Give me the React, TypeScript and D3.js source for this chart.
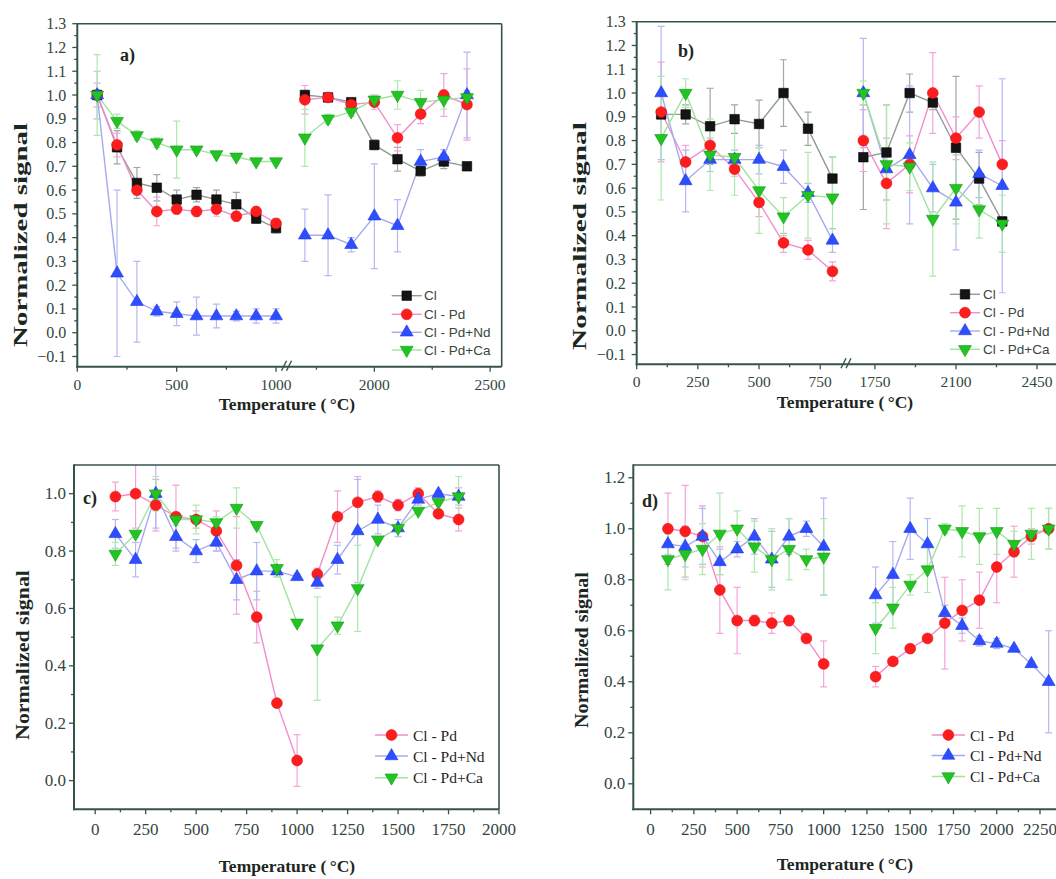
import React from 'react';
import * as d3 from 'd3';

const W = 1056;
const H = 879;

// ---------- temperatures (°C) ----------
const tempsA = [100, 200, 300, 400, 500, 600, 700, 800, 900, 1000, 1700, 1800, 1900, 2000, 2100, 2200, 2300, 2400];
const tempsB = [100, 200, 300, 400, 500, 600, 700, 800, 1700, 1800, 1900, 2000, 2100, 2200, 2300];
const tempsC = [100, 200, 300, 400, 500, 600, 700, 800, 900, 1000, 1100, 1200, 1300, 1400, 1500, 1600, 1700, 1800];
const tempsD = [100, 200, 300, 400, 500, 600, 700, 800, 900, 1000, 1300, 1400, 1500, 1600, 1700, 1800, 1900, 2000, 2100, 2200, 2300];

// ---------- panel a ----------
const aCl = [1.0, 0.78, 0.63, 0.61, 0.56, 0.58, 0.56, 0.54, 0.48, 0.44, 1.0, 0.99, 0.97, 0.79, 0.73, 0.68, 0.72, 0.7];
const aClErr = [0.02, 0.07, 0.065, 0.055, 0.04, 0.03, 0.04, 0.05, 0.02, 0.02, 0.02, 0.01, 0.01, 0.02, 0.05, 0.02, 0.03, 0.01];
const aPd = [1.0, 0.79, 0.6, 0.51, 0.52, 0.51, 0.52, 0.49, 0.51, 0.46, 0.98, 0.99, 0.96, 0.97, 0.82, 0.92, 1.0, 0.96];
const aPdErr = [0.05, 0.05, 0.02, 0.06, 0.02, 0.02, 0.03, 0.02, 0.02, 0.02, 0.06, 0.01, 0.02, 0.03, 0.055, 0.04, 0.09, 0.15];
const aNd = [1.0, 0.25, 0.13, 0.09, 0.08, 0.07, 0.07, 0.07, 0.07, 0.07, 0.41, 0.41, 0.37, 0.49, 0.45, 0.72, 0.74, 1.0];
const aNdErr = [0.1, 0.35, 0.17, 0.02, 0.05, 0.08, 0.05, 0.02, 0.03, 0.03, 0.11, 0.17, 0.03, 0.22, 0.11, 0.05, 0.03, 0.18];
const aCa = [1.0, 0.89, 0.83, 0.8, 0.77, 0.77, 0.75, 0.74, 0.72, 0.72, 0.82, 0.9, 0.93, 0.98, 1.0, 0.97, 0.98, 0.99];
const aCaErr = [0.17, 0.03, 0.02, 0.02, 0.12, 0.01, 0.01, 0.01, 0.01, 0.01, 0.12, 0.02, 0.02, 0.02, 0.06, 0.05, 0.04, 0.03];

// ---------- panel b ----------
const bCl = [0.91, 0.91, 0.86, 0.89, 0.87, 1.0, 0.85, 0.64, 0.73, 0.75, 1.0, 0.96, 0.77, 0.64, 0.46];
const bClErr = [0.01, 0.04, 0.16, 0.06, 0.1, 0.14, 0.07, 0.09, 0.22, 0.2, 0.08, 0.03, 0.3, 0.11, 0.02];
const bPd = [0.92, 0.71, 0.78, 0.68, 0.54, 0.37, 0.34, 0.25, 0.8, 0.62, 0.7, 1.0, 0.81, 0.92, 0.7];
const bPdErr = [0.21, 0.07, 0.03, 0.03, 0.06, 0.04, 0.04, 0.04, 0.13, 0.19, 0.12, 0.17, 0.09, 0.11, 0.1];
const bNd = [1.0, 0.63, 0.72, 0.72, 0.72, 0.69, 0.58, 0.38, 1.0, 0.68, 0.74, 0.6, 0.54, 0.66, 0.61];
const bNdErr = [0.28, 0.13, 0.05, 0.04, 0.06, 0.07, 0.04, 0.05, 0.23, 0.06, 0.29, 0.1, 0.2, 0.1, 0.45];
const bCa = [0.81, 1.0, 0.74, 0.73, 0.59, 0.48, 0.57, 0.56, 1.0, 0.7, 0.69, 0.47, 0.6, 0.51, 0.45];
const bCaErr = [0.26, 0.06, 0.15, 0.16, 0.18, 0.08, 0.18, 0.17, 0.05, 0.25, 0.1, 0.24, 0.15, 0.12, 0.12];

// ---------- panel c ----------
const cPd = [0.99, 1.0, 0.96, 0.92, 0.91, 0.87, 0.75, 0.57, 0.27, 0.07, 0.72, 0.92, 0.97, 0.99, 0.96, 1.0, 0.93, 0.91];
const cPdErr = [0.05, 0.12, 0.09, 0.11, 0.03, 0.07, 0.17, 0.09, 0.01, 0.09, 0.02, 0.09, 0.09, 0.02, 0.02, 0.02, 0.01, 0.04];
const cNd = [0.86, 0.77, 1.0, 0.85, 0.8, 0.83, 0.7, 0.73, 0.73, 0.71, 0.69, 0.77, 0.87, 0.91, 0.88, 0.98, 1.0, 0.99];
const cNdErr = [0.05, 0.06, 0.12, 0.05, 0.04, 0.03, 0.07, 0.1, 0.02, 0.01, 0.02, 0.05, 0.18, 0.05, 0.03, 0.02, 0.01, 0.03];
const cCa = [0.79, 0.86, 1.0, 0.91, 0.91, 0.9, 0.95, 0.89, 0.74, 0.55, 0.46, 0.54, 0.67, 0.84, 0.88, 0.94, 0.97, 0.99];
const cCaErr = [0.04, 0.01, 0.06, 0.02, 0.05, 0.02, 0.07, 0.01, 0.03, 0.01, 0.18, 0.03, 0.15, 0.01, 0.01, 0.01, 0.03, 0.07];

// ---------- panel d ----------
const dPd = [1.0, 0.99, 0.97, 0.76, 0.64, 0.64, 0.63, 0.64, 0.57, 0.47, 0.42, 0.48, 0.53, 0.57, 0.63, 0.68, 0.72, 0.85, 0.91, 0.97, 1.0];
const dPdErr = [0.14, 0.18, 0.12, 0.17, 0.13, 0.02, 0.04, 0.02, 0.01, 0.09, 0.04, 0.01, 0.01, 0.01, 0.18, 0.12, 0.11, 0.14, 0.1, 0.03, 0.08];
const dNd = [0.94, 0.93, 0.97, 0.87, 0.92, 0.97, 0.88, 0.97, 1.0, 0.93, 0.74, 0.82, 1.0, 0.94, 0.67, 0.62, 0.56, 0.55, 0.53, 0.47, 0.4];
const dNdErr = [0.04, 0.08, 0.11, 0.05, 0.03, 0.07, 0.11, 0.07, 0.03, 0.19, 0.11, 0.13, 0.12, 0.1, 0.03, 0.03, 0.02, 0.02, 0.01, 0.01, 0.2];
const dCa = [0.88, 0.9, 0.92, 0.98, 1.0, 0.93, 0.88, 0.92, 0.88, 0.89, 0.61, 0.69, 0.78, 0.84, 1.0, 0.99, 0.97, 0.99, 0.94, 0.98, 1.0];
const dCaErr = [0.12, 0.1, 0.1, 0.16, 0.07, 0.1, 0.12, 0.12, 0.04, 0.15, 0.1, 0.08, 0.04, 0.09, 0.02, 0.1, 0.11, 0.09, 0.05, 0.1, 0.08];

// ---------- axis ticks ----------
const ticksYab = [-0.1, 0.0, 0.1, 0.2, 0.3, 0.4, 0.5, 0.6, 0.7, 0.8, 0.9, 1.0, 1.1, 1.2, 1.3];
const minorYab = [-0.05, 0.05, 0.15, 0.25, 0.35, 0.45, 0.55, 0.65, 0.75, 0.85, 0.95, 1.05, 1.15, 1.25];
const ticksYc = [0.0, 0.2, 0.4, 0.6, 0.8, 1.0];
const minorYc = [0.1, 0.3, 0.5, 0.7, 0.9];
const ticksYd = [0.0, 0.2, 0.4, 0.6, 0.8, 1.0, 1.2];
const minorYd = [0.1, 0.3, 0.5, 0.7, 0.9, 1.1];
const ticksXa = [0, 500, 1000, 2000, 2500];
const minorXa = [250, 750, 1750, 2250];
const ticksXb = [0, 250, 500, 750, 1750, 2100, 2450];
const minorXb = [125, 375, 625, 1925, 2275];
const ticksXc = [0, 250, 500, 750, 1000, 1250, 1500, 1750, 2000];
const minorXc = [125, 375, 625, 875, 1125, 1375, 1625, 1875];
const ticksXd = [0, 250, 500, 750, 1000, 1250, 1500, 1750, 2000, 2250];
const minorXd = [125, 375, 625, 875, 1125, 1375, 1625, 1875, 2125];

type Key = 'Cl' | 'Pd' | 'Nd' | 'Ca';

const seriesNames: Record<Key, string> = {
  Cl: 'Cl',
  Pd: 'Cl - Pd',
  Nd: 'Cl - Pd+Nd',
  Ca: 'Cl - Pd+Ca',
};

const seriesStyle: Record<Key, { marker: string; edge: string; line: string; err: string }> = {
  Cl: { marker: '#141414', edge: '#000000', line: '#8e9c94', err: '#9daaa3' },
  Pd: { marker: '#ff1c1c', edge: '#e01010', line: '#f28ccf', err: '#f3a4da' },
  Nd: { marker: '#2d4dff', edge: '#1c3ae0', line: '#a7a9ef', err: '#b6b8f3' },
  Ca: { marker: '#22c422', edge: '#159815', line: '#9fe49f', err: '#ace9ac' },
};

const AXIS = '#34544b';
const TICKTEXT = '#32463f';
const TITLE = '#1c2622';

type Series = { key: Key; values: number[]; errors: number[] };

type PanelCfg = {
  id: string;
  label: string;
  labelPos: [number, number];
  xDomain: number[];
  xRange: number[];
  hasBreak: boolean;
  yDomain: [number, number];
  yRange: [number, number];
  xMajor: number[];
  xMinor: number[];
  yMajor: number[];
  yMinor: number[];
  tickFont: number;
  xTickFont: number;
  xLabelGap: number;
  yLabelGap: number;
  temps: number[];
  gapAfter: number;
  series: Series[];
  legend: { x0: number; x1: number; tx: number; rows: number[]; sans: boolean; font: number };
  yTitle: { cx: number; cy: number; len: number };
  xTitle: { cx: number; y: number };
};

const panels: PanelCfg[] = [
  {
    id: 'a',
    label: 'a)',
    labelPos: [120, 61],
    xDomain: [0, 1040, 1640, 2550],
    xRange: [77.3, 284, 291, 501.7],
    hasBreak: true,
    yDomain: [-0.143, 1.3],
    yRange: [366.7, 23.7],
    xMajor: ticksXa,
    xMinor: minorXa,
    yMajor: ticksYab,
    yMinor: minorYab,
    tickFont: 16,
    xTickFont: 15.5,
    xLabelGap: 23,
    yLabelGap: 11,
    temps: tempsA,
    gapAfter: 1000,
    series: [
      { key: 'Cl', values: aCl, errors: aClErr },
      { key: 'Pd', values: aPd, errors: aPdErr },
      { key: 'Nd', values: aNd, errors: aNdErr },
      { key: 'Ca', values: aCa, errors: aCaErr },
    ],
    legend: { x0: 391.7, x1: 421.7, tx: 424, rows: [295.7, 314.3, 332.3, 350], sans: true, font: 13.5 },
    yTitle: { cx: 21, cy: 235, len: 224 },
    xTitle: { cx: 287, y: 410 },
  },
  {
    id: 'b',
    label: 'b)',
    labelPos: [678, 57],
    xDomain: [0, 839, 1651, 2545],
    xRange: [636.7, 842, 852, 1059],
    hasBreak: true,
    yDomain: [-0.141, 1.3],
    yRange: [364.3, 21.7],
    xMajor: ticksXb,
    xMinor: minorXb,
    yMajor: ticksYab,
    yMinor: minorYab,
    tickFont: 16,
    xTickFont: 15.5,
    xLabelGap: 23,
    yLabelGap: 11,
    temps: tempsB,
    gapAfter: 800,
    series: [
      { key: 'Cl', values: bCl, errors: bClErr },
      { key: 'Pd', values: bPd, errors: bPdErr },
      { key: 'Nd', values: bNd, errors: bNdErr },
      { key: 'Ca', values: bCa, errors: bCaErr },
    ],
    legend: { x0: 950, x1: 980, tx: 983, rows: [294.3, 312.7, 331, 349.3], sans: true, font: 13.5 },
    yTitle: { cx: 580, cy: 236, len: 228 },
    xTitle: { cx: 845, y: 408 },
  },
  {
    id: 'c',
    label: 'c)',
    labelPos: [83, 504],
    xDomain: [-105, 2000],
    xRange: [74, 499],
    hasBreak: false,
    yDomain: [-0.1, 1.1],
    yRange: [809.3, 465],
    xMajor: ticksXc,
    xMinor: minorXc,
    yMajor: ticksYc,
    yMinor: minorYc,
    tickFont: 17,
    xTickFont: 17,
    xLabelGap: 26,
    yLabelGap: 8,
    temps: tempsC,
    gapAfter: 1000,
    series: [
      { key: 'Pd', values: cPd, errors: cPdErr },
      { key: 'Nd', values: cNd, errors: cNdErr },
      { key: 'Ca', values: cCa, errors: cCaErr },
    ],
    legend: { x0: 375, x1: 408, tx: 413, rows: [735, 756, 777.7], sans: false, font: 15.5 },
    yTitle: { cx: 23, cy: 655, len: 170 },
    xTitle: { cx: 287, y: 872 },
  },
  {
    id: 'd',
    label: 'd)',
    labelPos: [642, 507],
    xDomain: [-100, 2350],
    xRange: [633.3, 1057.3],
    hasBreak: false,
    yDomain: [-0.1, 1.25],
    yRange: [809.3, 465],
    xMajor: ticksXd,
    xMinor: minorXd,
    yMajor: ticksYd,
    yMinor: minorYd,
    tickFont: 17,
    xTickFont: 17,
    xLabelGap: 26,
    yLabelGap: 8,
    temps: tempsD,
    gapAfter: 1000,
    series: [
      { key: 'Pd', values: dPd, errors: dPdErr },
      { key: 'Nd', values: dNd, errors: dNdErr },
      { key: 'Ca', values: dCa, errors: dCaErr },
    ],
    legend: { x0: 931.7, x1: 965, tx: 970, rows: [735, 755.5, 776.5], sans: false, font: 15.5 },
    yTitle: { cx: 582, cy: 650, len: 156 },
    xTitle: { cx: 845, y: 870 },
  },
];

const SERIF = '"Liberation Serif", "Times New Roman", serif';
const SANS = '"Liberation Sans", Arial, sans-serif';

// Approximate advance of "Normalized signal" in bold Times-like serif, in em.
const Y_TITLE_EM = 7.75;
const Y_TITLE_FONT = 18;

function Marker({ k, cx, cy }: { k: Key; cx: number; cy: number }) {
  const st = seriesStyle[k];
  let path: string;
  let rot = 0;
  if (k === 'Cl') path = d3.symbol().type(d3.symbolSquare).size(90)() as string;
  else if (k === 'Pd') path = d3.symbol().type(d3.symbolCircle).size(92)() as string;
  else {
    path = d3.symbol().type(d3.symbolTriangle).size(72)() as string;
    if (k === 'Ca') rot = 180;
  }
  return (
    <path
      d={path}
      transform={`translate(${cx},${cy}) rotate(${rot})`}
      fill={st.marker}
      stroke={st.edge}
      strokeWidth={0.6}
    />
  );
}

function Panel({ cfg }: { cfg: PanelCfg }) {
  const x = d3.scaleLinear().domain(cfg.xDomain).range(cfg.xRange);
  const y = d3.scaleLinear().domain(cfg.yDomain).range(cfg.yRange);
  const left = cfg.xRange[0];
  const right = cfg.xRange[cfg.xRange.length - 1];
  const bottom = cfg.yRange[0];
  const top = cfg.yRange[1];
  const clipId = `clip-${cfg.id}`;

  const line = d3
    .line<[number, number]>()
    .x((d) => x(d[0]))
    .y((d) => y(d[1]));

  const segments = (vals: number[]) => {
    const pts: [number, number][] = cfg.temps.map((t, i) => [t, vals[i]]);
    return [pts.filter((p) => p[0] <= cfg.gapAfter), pts.filter((p) => p[0] > cfg.gapAfter)];
  };

  const fmtY = d3.format('.1f');
  const breakX = cfg.hasBreak ? (cfg.xRange[1] + cfg.xRange[2]) / 2 : 0;
  const yTitleStretch = cfg.yTitle.len / (Y_TITLE_EM * Y_TITLE_FONT);

  return (
    <g>
      <defs>
        <clipPath id={clipId}>
          <rect x={left} y={top} width={right - left} height={bottom - top} />
        </clipPath>
      </defs>

      {/* data */}
      <g clipPath={`url(#${clipId})`}>
        {cfg.series.map((s) =>
          cfg.temps.map((t, i) => {
            const cx = x(t);
            const y0 = y(s.values[i] - s.errors[i]);
            const y1 = y(s.values[i] + s.errors[i]);
            const c = seriesStyle[s.key].err;
            return (
              <g key={`e-${s.key}-${t}`} stroke={c} strokeWidth={1.2}>
                <line x1={cx} x2={cx} y1={y0} y2={y1} />
                <line x1={cx - 3.5} x2={cx + 3.5} y1={y0} y2={y0} />
                <line x1={cx - 3.5} x2={cx + 3.5} y1={y1} y2={y1} />
              </g>
            );
          })
        )}
        {cfg.series.map((s) =>
          segments(s.values).map((seg, j) => (
            <path
              key={`l-${s.key}-${j}`}
              d={line(seg) || ''}
              fill="none"
              stroke={seriesStyle[s.key].line}
              strokeWidth={1.4}
            />
          ))
        )}
        {cfg.series.map((s) =>
          cfg.temps.map((t, i) => <Marker key={`m-${s.key}-${t}`} k={s.key} cx={x(t)} cy={y(s.values[i])} />)
        )}
      </g>

      {/* frame */}
      <g stroke={AXIS} fill="none">
        <line x1={left} x2={right} y1={top} y2={top} strokeWidth={1.6} />
        <line x1={right} x2={right} y1={top} y2={bottom} strokeWidth={1.6} />
        <line x1={left} x2={left} y1={top - 0.8} y2={bottom + 1} strokeWidth={2} />
        <line x1={left - 1} x2={right} y1={bottom} y2={bottom} strokeWidth={2} />
      </g>

      {/* x ticks */}
      <g stroke={AXIS} strokeWidth={1.3}>
        {cfg.xMajor.map((t) => (
          <line key={`xt-${t}`} x1={x(t)} x2={x(t)} y1={bottom} y2={bottom + 5} />
        ))}
        {cfg.xMinor.map((t) => (
          <line key={`xm-${t}`} x1={x(t)} x2={x(t)} y1={bottom} y2={bottom + 3} />
        ))}
      </g>
      <g fontFamily={SERIF} fontSize={cfg.xTickFont} fill={TICKTEXT} textAnchor="middle">
        {cfg.xMajor.map((t) => (
          <text key={`xl-${t}`} x={x(t)} y={bottom + cfg.xLabelGap}>
            {t}
          </text>
        ))}
      </g>

      {/* y ticks */}
      <g stroke={AXIS} strokeWidth={1.3}>
        {cfg.yMajor.map((v) => (
          <line key={`yt-${v}`} x1={left - 5} x2={left} y1={y(v)} y2={y(v)} />
        ))}
        {cfg.yMinor.map((v) => (
          <line key={`ym-${v}`} x1={left - 3} x2={left} y1={y(v)} y2={y(v)} />
        ))}
      </g>
      <g fontFamily={SERIF} fontSize={cfg.tickFont} fill={TICKTEXT} textAnchor="end" dominantBaseline="central">
        {cfg.yMajor.map((v) => (
          <text key={`yl-${v}`} x={left - cfg.yLabelGap} y={y(v)}>
            {fmtY(v)}
          </text>
        ))}
      </g>

      {/* axis break mark */}
      {cfg.hasBreak && (
        <g stroke={AXIS} strokeWidth={1.4}>
          <line x1={breakX - 6} x2={breakX - 1} y1={bottom + 4} y2={bottom - 6} />
          <line x1={breakX - 1} x2={breakX + 4} y1={bottom + 4} y2={bottom - 6} />
        </g>
      )}

      {/* panel letter */}
      <text
        x={cfg.labelPos[0]}
        y={cfg.labelPos[1]}
        fontFamily={SERIF}
        fontWeight="bold"
        fontSize={18}
        fill={TITLE}
      >
        {cfg.label}
      </text>

      {/* axis titles */}
      <text
        transform={`translate(${cfg.yTitle.cx},${cfg.yTitle.cy}) rotate(-90) scale(${yTitleStretch},1)`}
        textAnchor="middle"
        dominantBaseline="central"
        fontFamily={SERIF}
        fontWeight="bold"
        fontSize={Y_TITLE_FONT}
        fill={TITLE}
      >
        Normalized signal
      </text>
      <text
        x={cfg.xTitle.cx}
        y={cfg.xTitle.y}
        textAnchor="middle"
        fontFamily={SERIF}
        fontWeight="bold"
        fontSize={17.5}
        fill={TITLE}
      >
        {'Temperature (\u2009°C)'}
      </text>

      {/* legend */}
      <g>
        {cfg.series.map((s, i) => {
          const ry = cfg.legend.rows[i];
          const mx = (cfg.legend.x0 + cfg.legend.x1) / 2;
          return (
            <g key={`lg-${s.key}`}>
              <line
                x1={cfg.legend.x0}
                x2={cfg.legend.x1}
                y1={ry}
                y2={ry}
                stroke={seriesStyle[s.key].line}
                strokeWidth={1.4}
              />
              <Marker k={s.key} cx={mx} cy={ry} />
              <text
                x={cfg.legend.tx}
                y={ry}
                dominantBaseline="central"
                fontFamily={cfg.legend.sans ? SANS : SERIF}
                fontSize={cfg.legend.font}
                fill={cfg.legend.sans ? '#3a4640' : '#1e2522'}
              >
                {seriesNames[s.key]}
              </text>
            </g>
          );
        })}
      </g>
    </g>
  );
}

export default function App() {
  return (
    <svg
      width={W}
      height={H}
      viewBox={`0 0 ${W} ${H}`}
      style={{ position: 'absolute', left: 0, top: 0, background: '#ffffff' }}
    >
      <rect x={0} y={0} width={W} height={H} fill="#ffffff" />
      {panels.map((p) => (
        <Panel key={p.id} cfg={p} />
      ))}
    </svg>
  );
}
